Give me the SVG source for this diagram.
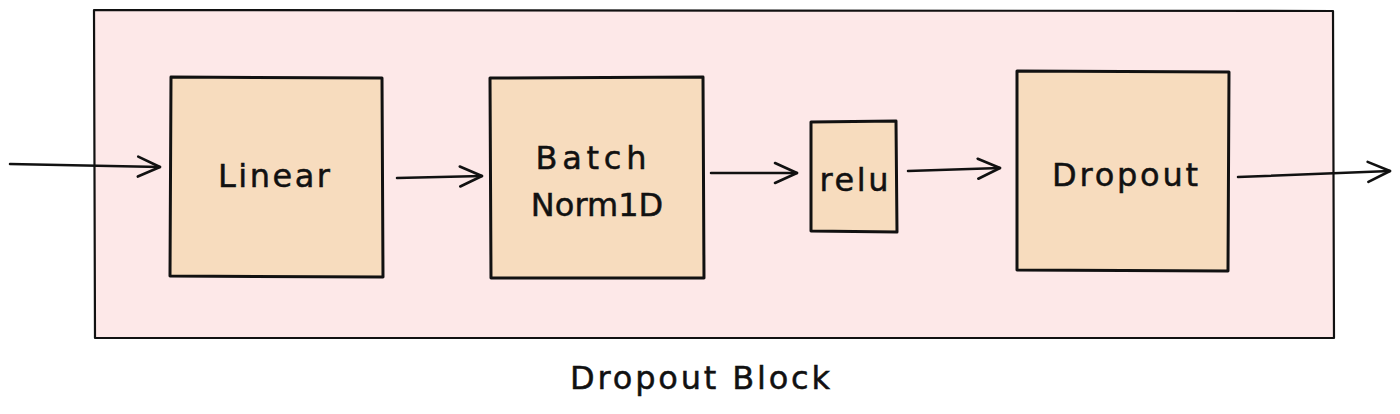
<svg xmlns="http://www.w3.org/2000/svg" width="1400" height="414" viewBox="0 0 1400 414">
<defs>
<style>
.box{fill:#f7dcbe;stroke:#111;stroke-width:3;stroke-linejoin:round}
.outer{fill:#fde8e8;stroke:#111;stroke-width:2.2;stroke-linejoin:round}
.line{fill:none;stroke:#111;stroke-width:2.5;stroke-linecap:round}
.lbl{font-family:"DejaVu Sans","Liberation Sans",sans-serif;font-size:32px;fill:#111;stroke:#111;stroke-width:0.5;text-anchor:middle;dominant-baseline:central}
</style>
<marker id="ah" viewBox="0 0 26 26" refX="24" refY="13" markerWidth="26" markerHeight="26" markerUnits="userSpaceOnUse" orient="auto">
<path d="M2 3 L24 13 L2 23" fill="none" stroke="#111" stroke-width="2.6" stroke-linecap="round" stroke-linejoin="round"/>
</marker>
</defs>
<rect width="1400" height="414" fill="#fff"/>
<g id="block">
<path class="outer" d="M94 10 L1333 11 L1334 338 L95 338 Z"/>
<text class="lbl" x="700" y="378" font-size="33" textLength="260" lengthAdjust="spacing">Dropout Block</text>
</g>
<g id="connectors">
<path class="line" d="M10 164 L160 167" marker-end="url(#ah)"/>
<path class="line" d="M397 178 L482 176" marker-end="url(#ah)"/>
<path class="line" d="M711 173 L797 173" marker-end="url(#ah)"/>
<path class="line" d="M908 171 L1000 168" marker-end="url(#ah)"/>
<path class="line" d="M1238 177 L1390 171" marker-end="url(#ah)"/>
</g>
<g id="linear">
<path class="box" d="M171 77 L382 78 L383 277 L170 276 Z"/>
<text class="lbl" x="274" y="176" textLength="112" lengthAdjust="spacing">Linear</text>
</g>
<g id="batchnorm">
<path class="box" d="M490 78 L703 77 L704 278 L491 278 Z"/>
<text class="lbl" x="591" y="158" textLength="111" lengthAdjust="spacing">Batch</text>
<text class="lbl" x="597" y="205">Norm1D</text>
</g>
<g id="relu">
<path class="box" d="M811 122 L896 121 L897 232 L811 231 Z"/>
<text class="lbl" x="854" y="180" textLength="69" lengthAdjust="spacing">relu</text>
</g>
<g id="dropout">
<path class="box" d="M1017 71 L1229 72 L1228 271 L1017 270 Z"/>
<text class="lbl" x="1125" y="175" textLength="146" lengthAdjust="spacing">Dropout</text>
</g>
</svg>
